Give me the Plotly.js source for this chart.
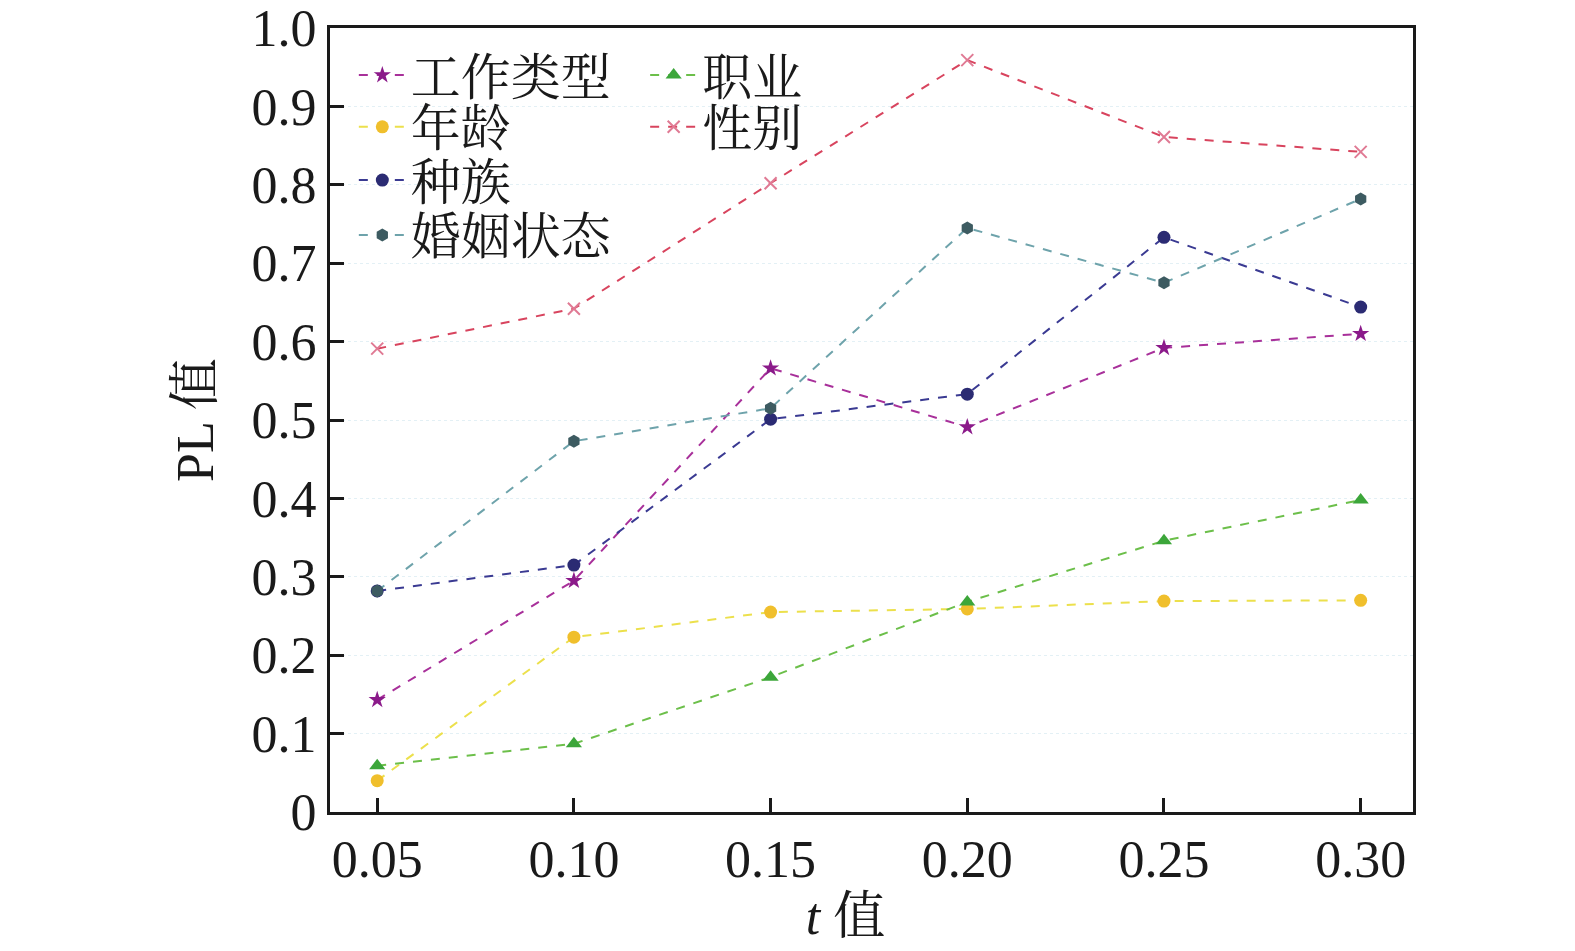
<!DOCTYPE html>
<html>
<head>
<meta charset="utf-8">
<script src="https://cdn.plot.ly/plotly-3.0.1.min.js"></script>
<style>html,body{margin:0;padding:0;background:#fff;}#chart{width:1575px;height:951px;}</style>
</head>
<body>
<div id="chart"></div>
<script>
const tValues = [0.05, 0.10, 0.15, 0.20, 0.25, 0.30];
const tickLabels = ['0.05', '0.10', '0.15', '0.20', '0.25', '0.30'];
const seriesNames = ['工作类型', '年龄', '种族', '婚姻状态', '职业', '性别'];
const workType = [0.143, 0.295, 0.566, 0.491, 0.592, 0.610];
const age = [0.040, 0.223, 0.255, 0.259, 0.269, 0.270];
const race = [0.282, 0.315, 0.501, 0.533, 0.733, 0.644];
const marital = [0.282, 0.473, 0.515, 0.745, 0.675, 0.782];
const occupation = [0.059, 0.087, 0.172, 0.268, 0.346, 0.398];
const gender = [0.591, 0.642, 0.802, 0.959, 0.861, 0.842];

const FONT = 'Liberation Serif, Times New Roman, Noto Serif CJK SC, Noto Sans CJK SC, serif';

const styles = [
  {line: '#a8309a', marker: '#8b1a8a', symbol: 'star', size: 13, legend: 'legend'},
  {line: '#ece04c', marker: '#f0bf2c', symbol: 'circle', size: 13, legend: 'legend2'},
  {line: '#3a3a92', marker: '#2b2b73', symbol: 'circle', size: 13, legend: 'legend3'},
  {line: '#6ea3ab', marker: '#3d5b61', symbol: 'hexagon', size: 13, legend: 'legend4'},
  {line: '#6cbf4a', marker: '#3ca63a', symbol: 'triangle-up', size: 14, legend: 'legend5'},
  {line: '#d8445e', marker: '#e07a94', symbol: 'x-thin-open', size: 12, legend: 'legend6'}
];
const dataArrays = [workType, age, race, marital, occupation, gender];

const traces = dataArrays.map((ys, i) => ({
  x: tValues,
  y: ys,
  name: seriesNames[i],
  type: 'scatter',
  mode: 'lines+markers',
  line: {color: styles[i].line, width: 2, dash: 'dash'},
  marker: {color: styles[i].marker, symbol: styles[i].symbol, size: styles[i].size,
           line: {color: styles[i].marker, width: styles[i].symbol === 'x-thin-open' ? 2 : 0}},
  legend: styles[i].legend
}));

function leg(x, y) {
  return {x: x, y: y, xanchor: 'left', yanchor: 'middle', bgcolor: 'rgba(0,0,0,0)',
          borderwidth: 0, font: {family: FONT, size: 50, color: '#1a1a1a'},
          itemwidth: 47, tracegroupgap: 0};
}

const layout = {
  width: 1575, height: 951,
  margin: {l: 330, r: 162, t: 28, b: 139},
  paper_bgcolor: '#fff', plot_bgcolor: '#fff',
  showlegend: true,
  legend: leg(0.022, 0.940),
  legend2: leg(0.022, 0.874),
  legend3: leg(0.022, 0.806),
  legend4: leg(0.022, 0.736),
  legend5: leg(0.291, 0.940),
  legend6: leg(0.291, 0.874),
  xaxis: {
    range: [0.038, 0.3133],
    tickvals: tValues, ticktext: tickLabels,
    ticks: 'inside', ticklen: 14, tickwidth: 3, tickcolor: '#1a1a1a',
    showline: true, linecolor: '#1a1a1a', linewidth: 3, mirror: true,
    showgrid: false, zeroline: false,
    tickfont: {family: FONT, size: 52, color: '#1a1a1a'},
    title: {text: '<i>t</i> 值&nbsp;&nbsp;&nbsp;&nbsp;', font: {family: FONT, size: 52, color: '#1a1a1a'}, standoff: 8}
  },
  yaxis: {
    range: [0, 1.0],
    tickvals: [0, 0.1, 0.2, 0.3, 0.4, 0.5, 0.6, 0.7, 0.8, 0.9, 1.0],
    ticktext: ['0', '0.1', '0.2', '0.3', '0.4', '0.5', '0.6', '0.7', '0.8', '0.9', '1.0'],
    ticks: 'inside', ticklen: 14, tickwidth: 3, tickcolor: '#1a1a1a',
    showline: true, linecolor: '#1a1a1a', linewidth: 3, mirror: true,
    showgrid: true, gridcolor: 'rgba(200,225,235,0.5)', gridwidth: 1, griddash: 'dot',
    zeroline: false,
    tickfont: {family: FONT, size: 52, color: '#1a1a1a'},
    title: {text: 'PL 值', font: {family: FONT, size: 52, color: '#1a1a1a'}, standoff: 22}
  }
};

Plotly.newPlot('chart', traces, layout, {displayModeBar: false, staticPlot: true});
</script>
</body>
</html>
